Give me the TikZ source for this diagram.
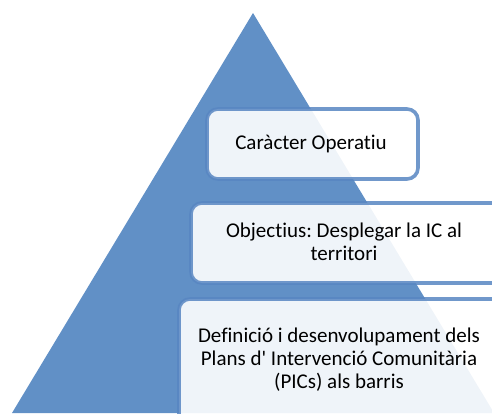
\documentclass[tikz,border=0pt]{standalone}
\usepackage{fontspec}
\setmainfont{Carlito}[Ligatures={NoCommon}]
\frenchspacing
\definecolor{triblue}{HTML}{6190C6}
\definecolor{boxline}{HTML}{5886C2}
\begin{document}
\begin{tikzpicture}[x=1pt,y=-1pt,
  pbox/.style={draw=boxline, draw opacity=0.85, line width=3.6pt, fill=white, fill opacity=0.9, text opacity=1, rounded corners=11pt},
  ptext/.style={font=\fontsize{21}{23}\selectfont, align=center, text=black}]
\useasboundingbox (0,0) rectangle (492,414);
\clip (0,0) rectangle (492,414);
\fill[triblue] (253,13) coordinate (apex) -- (494,413) coordinate (br) -- (12,413) coordinate (bl) -- cycle;
\draw[pbox] (207,109) rectangle (418,179);
\draw[pbox] (191,203) rectangle (520,283);
\draw[pbox] (179,299) rectangle (520,440);
\node[ptext] (t1) at (311,144) {Caràcter Operatiu};
\node[ptext] (t2) at (344,242) {Objectius: Desplegar la IC al\\territori};
\node[ptext] (t3) at (339,360) {Definició i desenvolupament dels\\Plans d\textquotesingle{} Intervenció Comunitària\\(PICs) als barris};
\end{tikzpicture}
\end{document}
